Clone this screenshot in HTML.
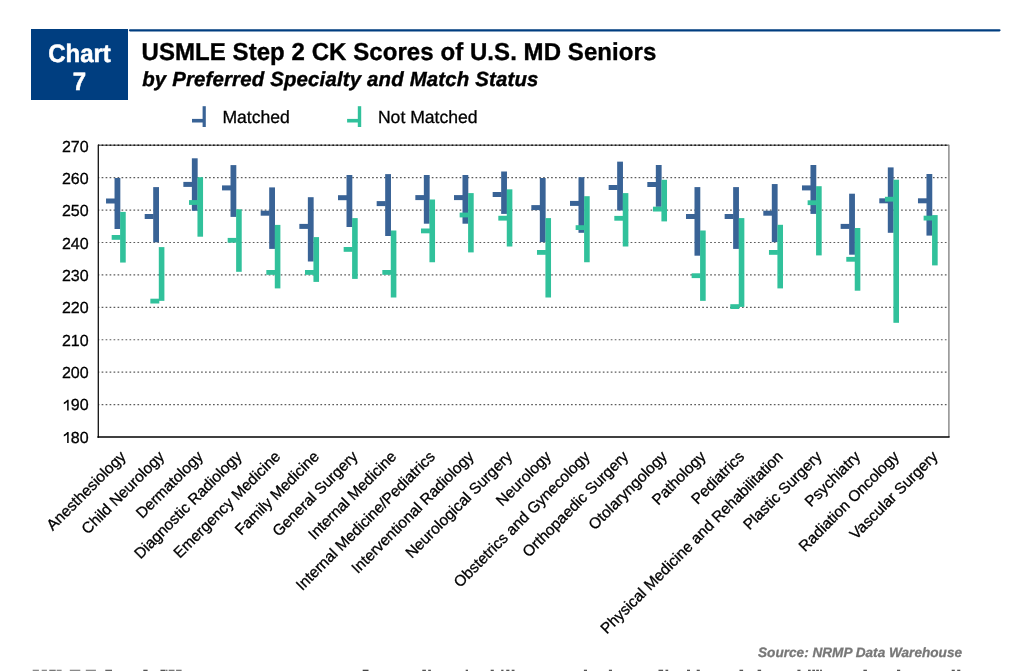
<!DOCTYPE html>
<html><head><meta charset="utf-8">
<style>
html,body{margin:0;padding:0;background:#fff;}
body{width:1024px;height:671px;overflow:hidden;position:relative;}
svg{position:absolute;left:0;top:0;will-change:transform;}
text{font-family:"Liberation Sans",sans-serif;text-rendering:geometricPrecision;}
.g{stroke:#5c5c5c;stroke-width:1.15;stroke-dasharray:1.7 2.2775;stroke-dashoffset:0.3499999999999943;}
.yl{font-size:16px;text-anchor:end;fill:#000;stroke:#000;stroke-width:0.3px;}
.xl{font-size:15.4px;text-anchor:end;fill:#000;stroke:#000;stroke-width:0.3px;}
</style></head>
<body>
<svg width="1024" height="671" viewBox="0 0 1024 671">
<rect x="31" y="29" width="97" height="71" fill="#003e80"/>
<line x1="130" y1="30.3" x2="999.5" y2="30.3" stroke="#003e80" stroke-width="2.2" stroke-linecap="round"/>
<text transform="translate(79.5,61.6) scale(1,1.05)" text-anchor="middle" fill="#fff" stroke="#fff" stroke-width="0.5" font-size="24" font-weight="bold">Chart</text>
<text transform="translate(79.5,90.2) scale(1,1.05)" text-anchor="middle" fill="#fff" stroke="#fff" stroke-width="0.5" font-size="24" font-weight="bold">7</text>
<text transform="translate(141.5,59.6) scale(1,1.02)" font-size="24" letter-spacing="0.066" font-weight="bold" fill="#000" stroke="#000" stroke-width="0.35">USMLE Step 2 CK Scores of U.S. MD Seniors</text>
<text x="142.2" y="85.6" font-size="20.4" letter-spacing="0.17" font-weight="bold" font-style="italic" fill="#000" stroke="#000" stroke-width="0.4">by Preferred Specialty and Match Status</text>
<rect x="202.6" y="106.2" width="3.2" height="20.8" fill="#396396"/>
<rect x="192" y="118.9" width="11" height="3.6" fill="#396396"/>
<text x="222.4" y="122.8" font-size="17.6" fill="#000" stroke="#000" stroke-width="0.3">Matched</text>
<rect x="357.8" y="106.2" width="3.4" height="20.8" fill="#31c19b"/>
<rect x="347.1" y="118.9" width="11" height="3.6" fill="#31c19b"/>
<text x="377.9" y="122.8" font-size="17.6" fill="#000" stroke="#000" stroke-width="0.3">Not Matched</text>
<line x1="98" y1="177.68" x2="948.6" y2="177.68" class="g"/>
<line x1="98" y1="210.1" x2="948.6" y2="210.1" class="g"/>
<line x1="98" y1="242.51" x2="948.6" y2="242.51" class="g"/>
<line x1="98" y1="274.93" x2="948.6" y2="274.93" class="g"/>
<line x1="98" y1="307.34" x2="948.6" y2="307.34" class="g"/>
<line x1="98" y1="339.76" x2="948.6" y2="339.76" class="g"/>
<line x1="98" y1="372.17" x2="948.6" y2="372.17" class="g"/>
<line x1="98" y1="404.59" x2="948.6" y2="404.59" class="g"/>
<line x1="98" y1="145.27" x2="948.9" y2="145.27" stroke="#7a7a7a" stroke-width="1.3"/>
<line x1="98" y1="145.27" x2="948.6" y2="145.27" class="g" style="stroke:#1a1a1a;stroke-width:1.4"/>
<line x1="948.9" y1="144.67" x2="948.9" y2="437" stroke="#858585" stroke-width="1.4"/>
<line x1="98.3" y1="144.67" x2="98.3" y2="437.7" stroke="#111" stroke-width="1.3"/>
<line x1="97.4" y1="437.05" x2="949.6" y2="437.05" stroke="#000" stroke-width="1.6"/>
<text x="88.6" y="151.6" class="yl">270</text>
<text x="88.6" y="183.94" class="yl">260</text>
<text x="88.6" y="216.29" class="yl">250</text>
<text x="88.6" y="248.63" class="yl">240</text>
<text x="88.6" y="280.98" class="yl">230</text>
<text x="88.6" y="313.32" class="yl">220</text>
<text x="88.6" y="345.66" class="yl">210</text>
<text x="88.6" y="378.01" class="yl">200</text>
<text x="88.6" y="410.35" class="yl">90</text>
<path transform="translate(0,-0.1)" d="M68.65 399.8 L67.3 399.8 Q66.2 401.6 63.8 402.6 L63.8 404.3 Q65.9 403.5 67.15 402.1 L67.15 410.7 L68.65 410.7 Z" fill="#000"/>
<text x="88.6" y="442.7" class="yl">80</text>
<path transform="translate(0,32.25)" d="M68.65 399.8 L67.3 399.8 Q66.2 401.6 63.8 402.6 L63.8 404.3 Q65.9 403.5 67.15 402.1 L67.15 410.7 L68.65 410.7 Z" fill="#000"/>
<rect x="114.53" y="178" width="5.8" height="51" fill="#396396"/>
<rect x="106.03" y="198.5" width="9" height="5" fill="#396396"/>
<rect x="120.13" y="211.9" width="5.6" height="50.65" fill="#31c19b"/>
<rect x="111.68" y="235" width="8.95" height="4.8" fill="#31c19b"/>
<rect x="153.2" y="187.1" width="5.8" height="55.2" fill="#396396"/>
<rect x="144.7" y="214" width="9" height="5" fill="#396396"/>
<rect x="158.8" y="247.1" width="5.6" height="53.75" fill="#31c19b"/>
<rect x="150.35" y="298.7" width="8.95" height="4.8" fill="#31c19b"/>
<rect x="191.86" y="158.3" width="5.8" height="52.5" fill="#396396"/>
<rect x="183.36" y="181.9" width="9" height="5" fill="#396396"/>
<rect x="197.46" y="177.2" width="5.6" height="59.5" fill="#31c19b"/>
<rect x="189.01" y="200.1" width="8.95" height="4.8" fill="#31c19b"/>
<rect x="230.52" y="165.1" width="5.8" height="51.8" fill="#396396"/>
<rect x="222.02" y="185.4" width="9" height="5" fill="#396396"/>
<rect x="236.12" y="209.3" width="5.6" height="62.5" fill="#31c19b"/>
<rect x="227.67" y="237.9" width="8.95" height="4.8" fill="#31c19b"/>
<rect x="269.19" y="187.4" width="5.8" height="61.5" fill="#396396"/>
<rect x="260.69" y="210.7" width="9" height="5" fill="#396396"/>
<rect x="274.79" y="224.9" width="5.6" height="63.5" fill="#31c19b"/>
<rect x="266.34" y="270" width="8.95" height="4.8" fill="#31c19b"/>
<rect x="307.85" y="197.2" width="5.8" height="64.3" fill="#396396"/>
<rect x="299.35" y="223.9" width="9" height="5" fill="#396396"/>
<rect x="313.45" y="237.1" width="5.6" height="44.8" fill="#31c19b"/>
<rect x="305" y="270" width="8.95" height="4.8" fill="#31c19b"/>
<rect x="346.51" y="175" width="5.8" height="52" fill="#396396"/>
<rect x="338.01" y="195.2" width="9" height="5" fill="#396396"/>
<rect x="352.11" y="218.1" width="5.6" height="60.8" fill="#31c19b"/>
<rect x="343.66" y="247" width="8.95" height="4.8" fill="#31c19b"/>
<rect x="385.18" y="174.1" width="5.8" height="61.9" fill="#396396"/>
<rect x="376.68" y="201.1" width="9" height="5" fill="#396396"/>
<rect x="390.78" y="230.5" width="5.6" height="67" fill="#31c19b"/>
<rect x="382.33" y="270" width="8.95" height="4.8" fill="#31c19b"/>
<rect x="423.84" y="175" width="5.8" height="48.7" fill="#396396"/>
<rect x="415.34" y="195.1" width="9" height="5" fill="#396396"/>
<rect x="429.44" y="199.5" width="5.6" height="62.75" fill="#31c19b"/>
<rect x="420.99" y="228.5" width="8.95" height="4.8" fill="#31c19b"/>
<rect x="462.5" y="175" width="5.8" height="48.7" fill="#396396"/>
<rect x="454" y="195.1" width="9" height="5" fill="#396396"/>
<rect x="468.1" y="193.1" width="5.6" height="59.3" fill="#31c19b"/>
<rect x="459.65" y="212.6" width="8.95" height="4.8" fill="#31c19b"/>
<rect x="501.17" y="171.5" width="5.8" height="42.4" fill="#396396"/>
<rect x="492.67" y="192" width="9" height="5" fill="#396396"/>
<rect x="506.77" y="189.35" width="5.6" height="57.15" fill="#31c19b"/>
<rect x="498.32" y="215.8" width="8.95" height="4.8" fill="#31c19b"/>
<rect x="539.83" y="178" width="5.8" height="64.1" fill="#396396"/>
<rect x="531.33" y="205.1" width="9" height="5" fill="#396396"/>
<rect x="545.43" y="218.1" width="5.6" height="79.4" fill="#31c19b"/>
<rect x="536.98" y="250" width="8.95" height="4.8" fill="#31c19b"/>
<rect x="578.5" y="177.2" width="5.8" height="55.6" fill="#396396"/>
<rect x="570" y="200.9" width="9" height="5" fill="#396396"/>
<rect x="584.1" y="196.2" width="5.6" height="66.05" fill="#31c19b"/>
<rect x="575.65" y="225.2" width="8.95" height="4.8" fill="#31c19b"/>
<rect x="617.16" y="161.65" width="5.8" height="48.85" fill="#396396"/>
<rect x="608.66" y="185" width="9" height="5" fill="#396396"/>
<rect x="622.76" y="193.1" width="5.6" height="53.4" fill="#31c19b"/>
<rect x="614.31" y="215.9" width="8.95" height="4.8" fill="#31c19b"/>
<rect x="655.82" y="165" width="5.8" height="41.8" fill="#396396"/>
<rect x="647.32" y="182" width="9" height="5" fill="#396396"/>
<rect x="661.42" y="179.8" width="5.6" height="41.6" fill="#31c19b"/>
<rect x="652.97" y="206.7" width="8.95" height="4.8" fill="#31c19b"/>
<rect x="694.49" y="187.1" width="5.8" height="68.6" fill="#396396"/>
<rect x="685.99" y="214" width="9" height="5" fill="#396396"/>
<rect x="700.09" y="230.5" width="5.6" height="70.35" fill="#31c19b"/>
<rect x="691.64" y="273.3" width="8.95" height="4.8" fill="#31c19b"/>
<rect x="733.15" y="187.1" width="5.8" height="61.8" fill="#396396"/>
<rect x="724.65" y="214" width="9" height="5" fill="#396396"/>
<rect x="738.75" y="218.1" width="5.6" height="88.8" fill="#31c19b"/>
<rect x="730.3" y="304.2" width="8.95" height="4.8" fill="#31c19b"/>
<rect x="771.81" y="184.05" width="5.8" height="58.05" fill="#396396"/>
<rect x="763.31" y="210.7" width="9" height="5" fill="#396396"/>
<rect x="777.41" y="224.8" width="5.6" height="63.6" fill="#31c19b"/>
<rect x="768.96" y="250" width="8.95" height="4.8" fill="#31c19b"/>
<rect x="810.48" y="165" width="5.8" height="48.9" fill="#396396"/>
<rect x="801.98" y="185.4" width="9" height="5" fill="#396396"/>
<rect x="816.08" y="186.2" width="5.6" height="69.2" fill="#31c19b"/>
<rect x="807.63" y="200.3" width="8.95" height="4.8" fill="#31c19b"/>
<rect x="849.14" y="193.7" width="5.8" height="61" fill="#396396"/>
<rect x="840.64" y="223.9" width="9" height="5" fill="#396396"/>
<rect x="854.74" y="228" width="5.6" height="62.7" fill="#31c19b"/>
<rect x="846.29" y="256.9" width="8.95" height="4.8" fill="#31c19b"/>
<rect x="887.8" y="167.4" width="5.8" height="65.4" fill="#396396"/>
<rect x="879.3" y="198.3" width="9" height="5" fill="#396396"/>
<rect x="893.4" y="179.7" width="5.6" height="143.1" fill="#31c19b"/>
<rect x="884.95" y="196.8" width="8.95" height="4.8" fill="#31c19b"/>
<rect x="926.47" y="174" width="5.8" height="61.6" fill="#396396"/>
<rect x="917.97" y="198.3" width="9" height="5" fill="#396396"/>
<rect x="932.07" y="215.1" width="5.6" height="50.3" fill="#31c19b"/>
<rect x="923.62" y="215.7" width="8.95" height="4.8" fill="#31c19b"/>
<text transform="translate(126.63,457.5) rotate(-45)" class="xl">Anesthesiology</text>
<text transform="translate(165.3,457.5) rotate(-45)" class="xl">Child Neurology</text>
<text transform="translate(203.96,457.5) rotate(-45)" class="xl">Dermatology</text>
<text transform="translate(242.62,457.5) rotate(-45)" class="xl">Diagnostic Radiology</text>
<text transform="translate(281.29,457.5) rotate(-45)" class="xl">Emergency Medicine</text>
<text transform="translate(319.95,457.5) rotate(-45)" class="xl">Family Medicine</text>
<text transform="translate(358.61,457.5) rotate(-45)" class="xl">General Surgery</text>
<text transform="translate(397.28,457.5) rotate(-45)" class="xl">Internal Medicine</text>
<text transform="translate(435.94,457.5) rotate(-45)" class="xl">Internal Medicine/Pediatrics</text>
<text transform="translate(474.6,457.5) rotate(-45)" class="xl">Interventional Radiology</text>
<text transform="translate(513.27,457.5) rotate(-45)" class="xl">Neurological Surgery</text>
<text transform="translate(551.93,457.5) rotate(-45)" class="xl">Neurology</text>
<text transform="translate(590.6,457.5) rotate(-45)" class="xl">Obstetrics and Gynecology</text>
<text transform="translate(629.26,457.5) rotate(-45)" class="xl">Orthopaedic Surgery</text>
<text transform="translate(667.92,457.5) rotate(-45)" class="xl">Otolaryngology</text>
<text transform="translate(706.59,457.5) rotate(-45)" class="xl">Pathology</text>
<text transform="translate(745.25,457.5) rotate(-45)" class="xl">Pediatrics</text>
<text transform="translate(783.91,457.5) rotate(-45)" class="xl">Physical Medicine and Rehabilitation</text>
<text transform="translate(822.58,457.5) rotate(-45)" class="xl">Plastic Surgery</text>
<text transform="translate(861.24,457.5) rotate(-45)" class="xl">Psychiatry</text>
<text transform="translate(899.9,457.5) rotate(-45)" class="xl">Radiation Oncology</text>
<text transform="translate(938.57,457.5) rotate(-45)" class="xl">Vascular Surgery</text>
<text x="962" y="656.6" text-anchor="end" font-size="13.6" font-weight="bold" font-style="italic" fill="#777" stroke="#777" stroke-width="0.3">Source: NRMP Data Warehouse</text>
<rect x="32.7" y="669.7" width="6.2" height="1.4" fill="#8a8a8a"/>
<rect x="41.7" y="669.7" width="5.2" height="1.4" fill="#8a8a8a"/>
<rect x="49.3" y="669.7" width="6.4" height="1.4" fill="#777"/>
<rect x="56.7" y="669.7" width="4.9" height="1.4" fill="#8a8a8a"/>
<rect x="69.8" y="669.7" width="10.5" height="1.4" fill="#8a8a8a"/>
<rect x="85.8" y="669.7" width="10.1" height="1.4" fill="#8a8a8a"/>
<rect x="105.3" y="669.7" width="6.7" height="1.4" fill="#666"/>
<rect x="143.3" y="669.7" width="4.3" height="1.4" fill="#555"/>
<rect x="160.5" y="669.7" width="4.7" height="1.4" fill="#555"/>
<rect x="165.5" y="669.7" width="2.0" height="1.4" fill="#777"/>
<rect x="168.7" y="669.7" width="5.8" height="1.4" fill="#777"/>
<rect x="176.1" y="669.7" width="5.5" height="1.4" fill="#777"/>
<rect x="362.7" y="669.7" width="5.8" height="1.4" fill="#444"/>
<rect x="422.3" y="669.7" width="3.6" height="1.4" fill="#555"/>
<rect x="428.2" y="669.7" width="2.7" height="1.4" fill="#555"/>
<rect x="465.7" y="669.7" width="2.3" height="1.4" fill="#555"/>
<rect x="490.7" y="669.7" width="3.1" height="1.4" fill="#555"/>
<rect x="501.2" y="669.7" width="2.3" height="1.4" fill="#555"/>
<rect x="506.25" y="669.7" width="3.15" height="1.4" fill="#555"/>
<rect x="511.7" y="669.7" width="2.8" height="1.4" fill="#555"/>
<rect x="583.9" y="669.7" width="3.1" height="1.4" fill="#555"/>
<rect x="608.9" y="669.7" width="3.1" height="1.4" fill="#555"/>
<rect x="658.5" y="669.7" width="4.6" height="1.4" fill="#555"/>
<rect x="665.5" y="669.7" width="2.7" height="1.4" fill="#555"/>
<rect x="687" y="669.7" width="3" height="1.4" fill="#555"/>
<rect x="696.7" y="669.7" width="3.1" height="1.4" fill="#555"/>
<rect x="739.5" y="669.7" width="3.6" height="1.4" fill="#555"/>
<rect x="757.6" y="669.7" width="3.5" height="1.4" fill="#555"/>
<rect x="797.4" y="669.7" width="3.1" height="1.4" fill="#555"/>
<rect x="808" y="669.7" width="2.7" height="1.4" fill="#555"/>
<rect x="812.3" y="669.7" width="2.7" height="1.4" fill="#555"/>
<rect x="816.2" y="669.7" width="2.7" height="1.4" fill="#555"/>
<rect x="820" y="669.7" width="2" height="1.4" fill="#666"/>
<rect x="863.4" y="669.7" width="3.5" height="1.4" fill="#555"/>
<rect x="897" y="669.7" width="3.2" height="1.4" fill="#555"/>
<rect x="951.7" y="669.7" width="3.1" height="1.4" fill="#555"/>
<rect x="957.2" y="669.7" width="3.1" height="1.4" fill="#555"/>
</svg>
</body></html>
